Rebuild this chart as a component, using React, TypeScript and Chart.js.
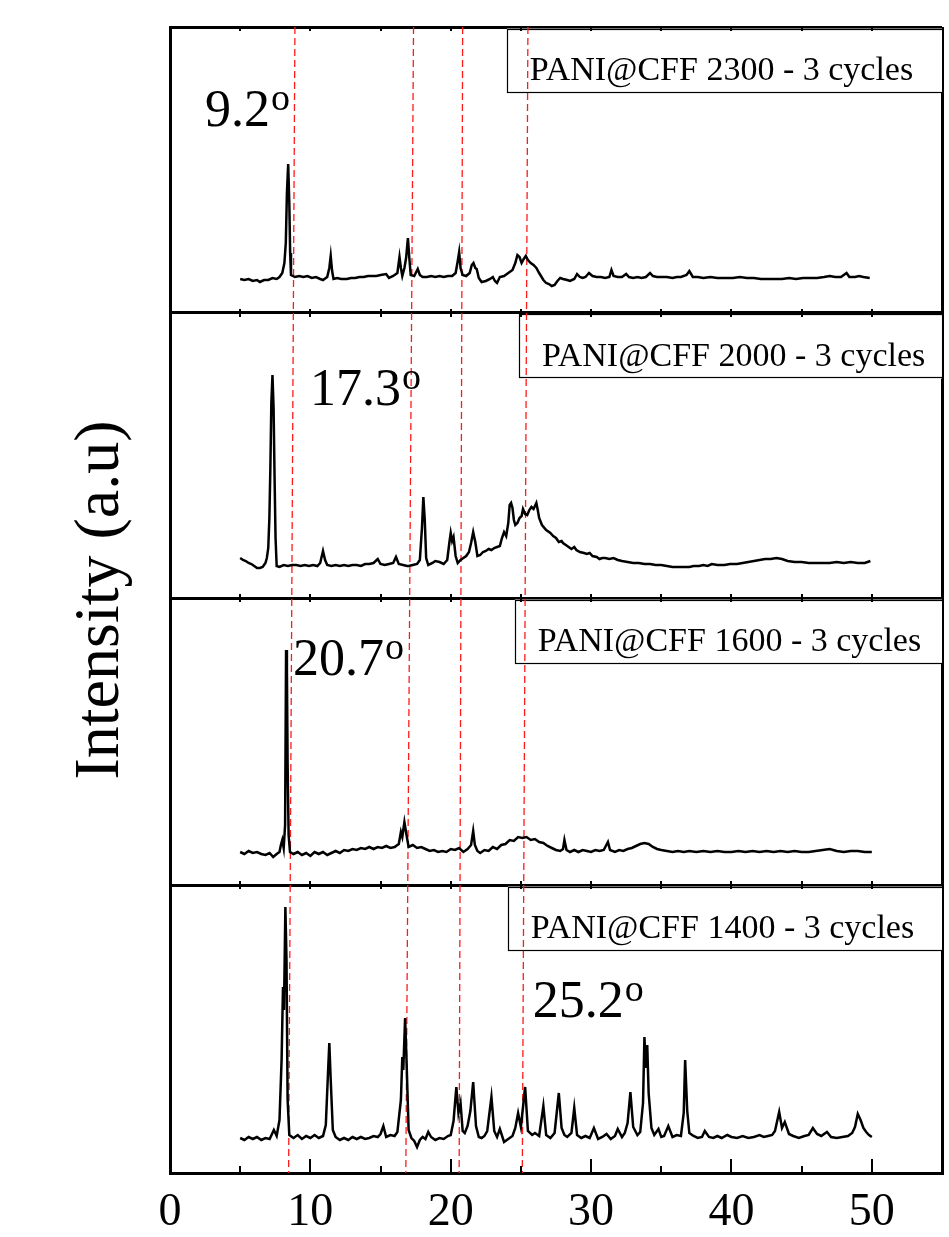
import React, { useEffect, useRef } from "react";
import { Chart, registerables } from "chart.js";

Chart.register(...registerables);

const FONT = '"Liberation Serif", "Times New Roman", serif';

// Sample labels, from the bottom panel to the top panel
const sampleLabels = [
  "PANI@CFF 1400 - 3 cycles",
  "PANI@CFF 1600 - 3 cycles",
  "PANI@CFF 2000 - 3 cycles",
  "PANI@CFF 2300 - 3 cycles",
];

// Vertical offset (a.u.) of each stacked panel, bottom to top, and top of the stack
const panelBase = [0, 288, 575, 860];
const panelTop = 1146;

// x tick labels (2θ, degrees)
const xTickLabels = [0, 10, 20, 30, 40, 50];

// Reference (dashed) lines: 2θ at the top and at the bottom of the figure
const refLineTopX = [8.9, 17.35, 20.85, 25.5];
const refLineBottomX = [8.45, 16.8, 20.6, 25.1];

// Peak annotations
const peakLabels = ["9.2", "17.3", "20.7", "25.2"];
const peakLabelX = [2.5, 9.97, 8.76, 25.85];
const peakLabelY = [1047, 768, 498, 156];

// Left edge (2θ) of each legend box, bottom to top
const legendBoxX = [24.07, 24.57, 24.86, 24.0];

// XRD patterns: [2θ, intensity a.u.]
const pani1400: [number, number][] = [
  [5.0,35],[5.3,33],[5.6,36],[5.9,34],[6.2,36],[6.5,33],[6.8,35],[7.1,34],[7.4,43],[7.6,37],[7.8,53],[7.95,113],[8.05,186],[8.12,163],[8.22,266],[8.3,213],[8.38,73],[8.5,38],[8.8,35],[9.1,38],[9.4,34],[9.7,37],[10.0,35],[10.3,38],[10.6,35],[10.9,37],[11.1,48],[11.25,98],[11.35,130],[11.45,93],[11.6,43],[11.8,36],[12.1,33],[12.4,35],[12.7,33],[13.0,36],[13.3,34],[13.6,36],[13.9,34],[14.2,35],[14.5,37],[14.8,36],[15.0,39],[15.2,47],[15.4,36],[15.7,38],[16.0,37],[16.2,41],[16.45,73],[16.55,116],[16.62,103],[16.75,155],[16.85,113],[17.0,43],[17.2,35],[17.4,32],[17.6,26],[17.8,33],[18.0,36],[18.2,34],[18.4,41],[18.6,36],[18.9,33],[19.2,35],[19.5,34],[19.8,37],[20.0,38],[20.2,52],[20.4,86],[20.55,60],[20.7,70],[20.85,42],[21.0,40],[21.2,47],[21.4,62],[21.6,91],[21.8,47],[22.0,36],[22.2,35],[22.4,37],[22.6,42],[22.9,76],[23.1,42],[23.3,36],[23.5,44],[23.8,31],[24.1,34],[24.4,37],[24.6,45],[24.8,60],[25.0,46],[25.15,66],[25.3,86],[25.5,42],[25.8,38],[26.0,40],[26.3,37],[26.6,67],[26.8,38],[27.1,35],[27.4,40],[27.7,80],[27.9,45],[28.1,38],[28.3,36],[28.6,40],[28.8,65],[29.0,38],[29.3,35],[29.6,37],[29.9,35],[30.2,45],[30.5,34],[30.8,36],[31.1,39],[31.4,34],[31.7,37],[31.9,44],[32.2,36],[32.4,40],[32.6,50],[32.8,81],[33.0,46],[33.3,38],[33.5,41],[33.7,70],[33.8,136],[33.9,105],[34.0,128],[34.1,80],[34.3,45],[34.5,38],[34.8,44],[35.0,36],[35.2,37],[35.5,47],[35.8,36],[36.1,38],[36.4,37],[36.6,60],[36.7,113],[36.85,62],[37.0,40],[37.3,37],[37.6,35],[37.9,36],[38.1,42],[38.4,36],[38.7,35],[39.0,37],[39.3,35],[39.7,38],[40.0,36],[40.4,35],[40.8,37],[41.2,35],[41.6,36],[42.0,38],[42.3,36],[42.6,37],[42.9,38],[43.1,42],[43.4,61],[43.6,45],[43.8,51],[44.1,39],[44.4,37],[44.8,35],[45.2,37],[45.5,38],[45.8,45],[46.1,39],[46.4,37],[46.8,41],[47.1,36],[47.5,35],[47.9,36],[48.3,37],[48.6,40],[48.8,46],[49.0,59],[49.2,53],[49.4,45],[49.6,41],[49.8,38],[50.0,36],
];

const pani1600: [number, number][] = [
  [5.0,33],[5.3,31],[5.6,34],[5.9,32],[6.2,33],[6.5,31],[6.8,30],[7.1,32],[7.35,28],[7.6,31],[7.8,33],[7.9,40],[8.0,45],[8.1,37],[8.2,60],[8.27,235],[8.33,215],[8.38,120],[8.45,50],[8.55,33],[8.8,31],[9.1,33],[9.4,30],[9.7,32],[10.0,29],[10.3,33],[10.6,31],[10.9,33],[11.2,30],[11.5,32],[11.8,34],[12.1,32],[12.4,35],[12.7,34],[13.0,36],[13.3,35],[13.6,37],[13.9,36],[14.2,38],[14.5,36],[14.8,38],[15.1,37],[15.4,39],[15.7,37],[16.0,38],[16.3,41],[16.45,53],[16.55,48],[16.7,63],[16.85,50],[17.0,38],[17.3,40],[17.6,37],[17.9,38],[18.2,36],[18.5,34],[18.8,35],[19.1,33],[19.4,34],[19.7,33],[20.0,36],[20.3,35],[20.6,37],[20.9,33],[21.2,36],[21.45,40],[21.6,54],[21.72,40],[21.9,34],[22.1,32],[22.4,35],[22.7,34],[23.0,38],[23.3,36],[23.6,40],[23.9,41],[24.2,45],[24.5,44],[24.8,48],[25.1,47],[25.4,48],[25.7,45],[26.0,46],[26.3,43],[26.6,42],[26.9,39],[27.2,37],[27.5,35],[27.8,34],[28.0,36],[28.1,45],[28.25,35],[28.5,33],[28.8,35],[29.1,33],[29.4,35],[29.7,34],[30.0,33],[30.3,35],[30.6,34],[30.9,35],[31.2,43],[31.35,35],[31.7,33],[32.0,35],[32.3,34],[32.6,36],[32.9,37],[33.2,39],[33.5,41],[33.8,42],[34.1,41],[34.4,38],[34.7,36],[35.0,35],[35.4,34],[35.8,33],[36.2,34],[36.6,33],[37.0,34],[37.5,33],[38.0,34],[38.5,33],[39.0,34],[39.5,33],[40.0,33],[40.5,34],[41.0,33],[41.5,34],[42.0,33],[42.5,34],[43.0,33],[43.5,34],[44.0,33],[44.5,34],[45.0,33],[45.5,33],[46.0,34],[46.5,35],[47.0,36],[47.5,34],[48.0,33],[48.5,34],[49.0,34],[49.5,33],[50.0,33],
];

const pani2000: [number, number][] = [
  [5.0,40],[5.2,38],[5.4,37],[5.6,35],[5.8,34],[6.0,32],[6.2,30],[6.4,30],[6.6,31],[6.8,35],[6.9,40],[7.0,50],[7.08,80],[7.15,130],[7.22,195],[7.3,223],[7.38,190],[7.45,120],[7.52,60],[7.6,32],[7.8,31],[8.1,33],[8.4,32],[8.7,33],[9.0,33],[9.3,32],[9.6,33],[9.9,32],[10.2,33],[10.5,32],[10.7,35],[10.9,47],[11.05,38],[11.2,33],[11.5,32],[11.8,33],[12.1,32],[12.4,33],[12.7,32],[13.0,33],[13.3,33],[13.6,32],[13.9,34],[14.2,34],[14.5,35],[14.8,39],[15.0,34],[15.3,33],[15.6,34],[15.9,35],[16.1,41],[16.3,34],[16.6,33],[16.9,32],[17.0,32],[17.3,33],[17.6,34],[17.8,38],[17.95,70],[18.05,101],[18.15,78],[18.25,40],[18.4,33],[18.7,35],[18.9,37],[19.2,36],[19.5,34],[19.75,38],[19.9,55],[20.0,65],[20.1,57],[20.2,61],[20.35,42],[20.5,35],[20.7,38],[20.9,40],[21.1,42],[21.3,46],[21.45,55],[21.6,66],[21.75,56],[21.9,42],[22.1,43],[22.3,46],[22.5,47],[22.7,49],[22.9,48],[23.1,50],[23.3,51],[23.5,52],[23.65,60],[23.8,66],[23.95,62],[24.1,75],[24.2,93],[24.3,95],[24.4,90],[24.5,78],[24.6,73],[24.75,75],[24.9,80],[25.05,82],[25.15,89],[25.3,84],[25.45,83],[25.6,88],[25.75,91],[25.9,89],[26.0,92],[26.1,95],[26.2,88],[26.3,80],[26.5,73],[26.8,68],[27.1,65],[27.3,62],[27.5,60],[27.7,56],[27.9,57],[28.0,55],[28.2,53],[28.4,51],[28.6,49],[28.8,51],[28.95,48],[29.2,46],[29.5,45],[29.7,44],[29.9,45],[30.1,42],[30.4,41],[30.6,39],[30.8,40],[31.0,40],[31.3,39],[31.6,40],[31.9,38],[32.2,37],[32.6,36],[33.0,35],[33.4,35],[33.8,34],[34.2,34],[34.6,33],[35.0,33],[35.4,32],[35.8,31],[36.2,31],[36.6,31],[37.0,31],[37.3,32],[37.7,32],[38.0,33],[38.3,32],[38.6,34],[39.0,33],[39.5,33],[39.9,34],[40.4,34],[40.8,35],[41.2,36],[41.6,37],[42.0,38],[42.4,39],[42.8,39],[43.2,40],[43.6,39],[44.0,37],[44.5,36],[45.0,36],[45.5,35],[46.0,35],[46.5,35],[47.0,35],[47.5,36],[48.0,35],[48.5,36],[49.0,35],[49.5,35],[49.9,37],
];

const pani2300: [number, number][] = [
  [5.0,34],[5.3,33],[5.6,34],[5.9,32],[6.2,33],[6.4,31],[6.7,33],[7.0,33],[7.3,35],[7.6,34],[7.8,36],[8.0,40],[8.15,50],[8.25,70],[8.33,120],[8.42,149],[8.5,110],[8.56,60],[8.62,38],[8.9,36],[9.2,37],[9.5,36],[9.8,37],[10.1,35],[10.4,36],[10.7,34],[10.9,33],[11.2,36],[11.35,45],[11.45,57],[11.55,42],[11.65,34],[11.9,35],[12.2,34],[12.6,34],[12.9,35],[13.2,35],[13.5,36],[13.8,36],[14.1,37],[14.4,37],[14.7,37],[15.0,38],[15.4,39],[15.6,35],[15.9,37],[16.2,40],[16.35,56],[16.45,45],[16.55,37],[16.7,45],[16.82,55],[16.95,75],[17.05,55],[17.15,38],[17.4,37],[17.65,44],[17.8,38],[18.0,36],[18.3,36],[18.6,37],[18.9,36],[19.2,37],[19.5,36],[19.8,37],[20.1,37],[20.35,40],[20.5,52],[20.6,61],[20.7,45],[20.85,38],[21.1,37],[21.35,40],[21.5,48],[21.62,50],[21.75,45],[21.85,44],[22.0,35],[22.2,31],[22.5,32],[22.8,34],[23.0,36],[23.15,32],[23.3,30],[23.5,36],[23.8,37],[24.1,40],[24.4,43],[24.6,50],[24.75,58],[24.9,56],[25.05,50],[25.2,54],[25.35,57],[25.5,53],[25.7,50],[25.9,48],[26.1,45],[26.3,40],[26.6,33],[26.8,30],[27.0,29],[27.2,27],[27.4,28],[27.6,32],[27.8,35],[28.0,34],[28.3,33],[28.5,32],[28.8,34],[29.0,39],[29.2,36],[29.4,35],[29.6,36],[29.85,40],[30.1,37],[30.4,36],[30.7,36],[31.0,35],[31.3,36],[31.45,43],[31.6,37],[31.9,36],[32.2,36],[32.5,39],[32.7,36],[33.0,35],[33.3,36],[33.6,35],[33.9,36],[34.2,40],[34.4,37],[34.7,36],[35.0,36],[35.4,36],[35.8,35],[36.1,36],[36.4,36],[36.8,38],[37.0,42],[37.25,36],[37.6,36],[38.0,35],[38.5,36],[39.0,35],[39.5,35],[40.1,35],[40.6,36],[41.1,35],[41.6,35],[42.1,34],[42.6,34],[43.1,34],[43.6,34],[44.1,35],[44.6,34],[45.1,35],[45.6,35],[46.1,35],[46.6,36],[47.0,37],[47.4,36],[47.8,36],[48.2,40],[48.4,36],[48.8,36],[49.1,37],[49.4,36],[49.85,35],
];

const patterns = [pani1400, pani1600, pani2000, pani2300];

const decorPlugin = {
  id: "decor",
  beforeDatasetsDraw(chart: any) {
    const { ctx, chartArea, scales } = chart;
    const x = scales.x;
    const y = scales.y;
    ctx.save();
    sampleLabels.forEach((label, i) => {
      const topVal = i === 3 ? panelTop : panelBase[i + 1];
      const top = y.getPixelForValue(topVal) + 1.5;
      const left = x.getPixelForValue(legendBoxX[i]);
      const w = chartArea.right - left;
      ctx.fillStyle = "#fff";
      ctx.fillRect(left, top, w, 64);
      ctx.strokeStyle = "#000";
      ctx.lineWidth = 1.2;
      ctx.strokeRect(Math.round(left) + 0.5, Math.round(top) + 0.5, w, 63);
      ctx.fillStyle = "#000";
      ctx.font = `34px ${FONT}`;
      ctx.textAlign = "left";
      ctx.textBaseline = "alphabetic";
      ctx.fillText(label, left + 23, top + 51);
    });
    ctx.restore();
  },
  afterDatasetsDraw(chart: any) {
    const { ctx, chartArea, scales } = chart;
    const x = scales.x;
    const y = scales.y;
    ctx.save();
    ctx.strokeStyle = "#000";
    ctx.lineWidth = 2;
    const edges = [...panelBase.slice(1), panelTop];
    for (let v = 5; v <= 50; v += 5) {
      const px = Math.round(x.getPixelForValue(v));
      const major = v % 10 === 0;
      ctx.beginPath();
      ctx.moveTo(px, chartArea.bottom);
      ctx.lineTo(px, chartArea.bottom - (major ? 14 : 7));
      ctx.stroke();
      edges.forEach((e, k) => {
        const py = y.getPixelForValue(e);
        ctx.beginPath();
        ctx.moveTo(px, k === edges.length - 1 ? py : py - 4);
        ctx.lineTo(px, py + 4);
        ctx.stroke();
      });
    }
    // peak annotations
    ctx.fillStyle = "#000";
    ctx.textAlign = "left";
    ctx.textBaseline = "alphabetic";
    peakLabels.forEach((t, i) => {
      const px = x.getPixelForValue(peakLabelX[i]);
      const py = y.getPixelForValue(peakLabelY[i]);
      ctx.font = `52px ${FONT}`;
      ctx.fillText(t, px, py);
      const w = ctx.measureText(t).width;
      ctx.font = `38px ${FONT}`;
      ctx.fillText("o", px + w + 1, py - 16);
    });
    ctx.restore();
  },
};

export default function App() {
  const ref = useRef<HTMLCanvasElement | null>(null);
  useEffect(() => {
    if (!ref.current) return;
    const spectra = patterns.map((p, i) => ({
      label: sampleLabels[i],
      data: p.map(([a, b]) => ({ x: a, y: b + panelBase[i] })),
      borderColor: "#000",
      borderWidth: 2.5,
      pointRadius: 0,
      tension: 0,
      fill: false,
    }));
    const refs = refLineTopX.map((t, i) => ({
      label: "ref" + i,
      data: [
        { x: t, y: panelTop },
        { x: refLineBottomX[i], y: 0 },
      ],
      borderColor: "#ff1a1a",
      borderWidth: 1.3,
      borderDash: [7, 4],
      pointRadius: 0,
      tension: 0,
      fill: false,
    }));
    const chart = new Chart(ref.current, {
      type: "line",
      data: { datasets: [...spectra, ...refs] as any },
      plugins: [decorPlugin],
      options: {
        animation: false,
        responsive: false,
        maintainAspectRatio: false,
        layout: { padding: { left: 69, right: 7, top: 27, bottom: 1 } },
        plugins: { legend: { display: false }, tooltip: { enabled: false } },
        scales: {
          x: {
            type: "linear",
            min: 0,
            max: 55,
            afterFit: (s: any) => {
              s.height = 63;
              s.paddingLeft = 0;
              s.paddingRight = 0;
            },
            ticks: {
              stepSize: 5,
              autoSkip: false,
              maxRotation: 0,
              padding: 17,
              color: "#000",
              font: { family: FONT, size: 46, lineHeight: 1 },
              callback: (v: any) => (xTickLabels.includes(Number(v)) ? String(v) : ""),
            },
            grid: {
              drawTicks: false,
              lineWidth: 3,
              color: (c: any) =>
                c.tick && (c.tick.value === 0 || c.tick.value === 55) ? "#000" : "rgba(0,0,0,0)",
            },
            border: { display: true, color: "#000", width: 3 },
          },
          y: {
            type: "linear",
            min: 0,
            max: panelTop,
            afterBuildTicks: (s: any) => {
              s.ticks = [...panelBase, panelTop].map((v) => ({ value: v }));
            },
            ticks: { display: false },
            grid: { drawTicks: false, color: "#000", lineWidth: 3 },
            border: { display: true, color: "#000", width: 3 },
            title: {
              display: true,
              text: "Intensity (a.u)",
              color: "#000",
              font: { family: FONT, size: 64, lineHeight: 1 },
              padding: { top: 0, bottom: 37 },
            },
          },
        },
      },
    });
    return () => chart.destroy();
  }, []);
  return (
    <div style={{ position: "fixed", left: 0, top: 0, width: 949, height: 1237, background: "#fff" }}>
      <canvas ref={ref} width={949} height={1237} style={{ display: "block" }} />
    </div>
  );
}
